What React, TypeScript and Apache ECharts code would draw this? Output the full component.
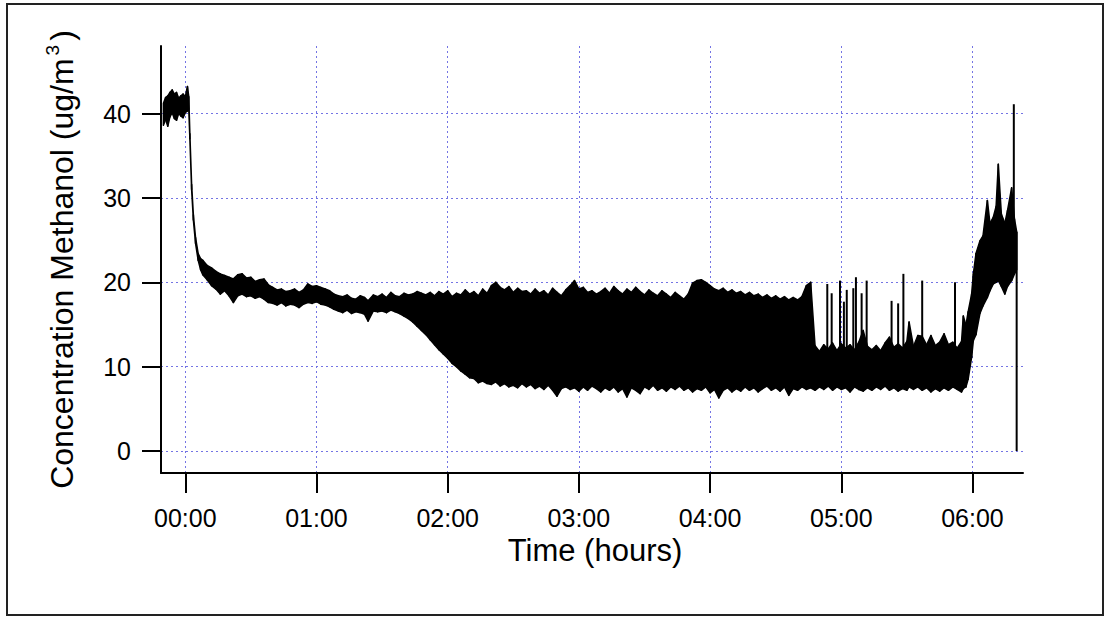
import React, { useEffect, useRef } from 'react';
import * as echarts from 'echarts';

// [minute, low, high] rows
const plateau: number[][] = [
  [-10, 38.6, 41.2], [-9, 39.3, 41.9], [-8, 38.5, 42.1], [-7, 39.6, 42.5], [-6, 40.1, 42.8],
  [-5, 39.4, 42.3], [-4, 39.2, 42.5], [-3, 40.0, 41.8], [-2, 39.7, 42.1], [-1, 39.5, 42.3],
  [0, 40.1, 42.0], [1, 40.3, 43.2],
];
const drop: number[][] = [
  [1.6, 40.5, 42.0], [2.1, 37.0, 37.6], [2.9, 31.0, 31.6], [3.7, 27.4, 28.0], [4.7, 24.6, 25.3],
  [5.9, 22.6, 23.4], [7.0, 21.5, 22.8],
];
const slowDecline: number[][] = [
  [8, 20.9, 22.6], [10, 20.3, 22.0], [12, 19.6, 21.7], [14, 19.2, 21.3], [16, 18.6, 21.0],
  [18, 19.0, 20.8], [20, 18.4, 20.6], [22, 17.6, 20.4], [24, 18.4, 20.9], [26, 18.6, 21.0],
  [28, 18.3, 20.5], [30, 18.4, 20.6], [32, 18.1, 20.1], [34, 18.3, 20.3], [36, 18.0, 20.4],
  [38, 17.6, 19.7], [40, 17.5, 19.4], [42, 17.3, 19.1], [44, 17.6, 19.2], [46, 17.2, 18.9],
  [48, 17.4, 19.0], [50, 17.3, 19.2], [52, 17.0, 18.8], [54, 17.4, 19.1], [56, 17.6, 19.8],
  [58, 17.5, 19.5], [60, 17.7, 19.6], [62, 17.4, 19.4], [64, 17.3, 19.2], [66, 17.1, 19.0],
  [68, 16.8, 18.6], [70, 16.6, 18.4], [72, 16.4, 18.3], [74, 16.7, 18.5], [76, 16.3, 18.1],
  [78, 16.5, 18.0], [80, 16.4, 18.4], [82, 16.2, 18.2], [83.6, 15.4, 17.8], [86, 16.6, 18.5],
  [88, 16.5, 18.3], [90, 16.6, 18.6], [92, 16.4, 18.2], [94, 16.7, 18.8], [96, 16.5, 18.4],
  [98, 16.3, 18.3], [100, 16.0, 18.7], [102, 15.7, 18.5], [104, 15.3, 18.6], [106, 14.8, 18.9],
];
const noisyBand: number[][] = [
  [108, 14.3, 18.7], [110, 13.8, 18.5], [112, 13.2, 18.8], [114, 12.6, 18.4], [116, 12.0, 18.9],
  [118, 11.5, 18.6], [120, 11.0, 19.0], [122, 10.4, 18.3], [124, 10.0, 18.7], [126, 9.5, 18.5],
  [128, 9.1, 19.1], [130, 8.7, 18.6], [132, 8.6, 18.9], [134, 8.1, 18.4], [136, 8.3, 19.2],
  [138, 8.0, 18.7], [140, 7.9, 19.6], [142, 8.2, 20.0], [144, 7.7, 19.4], [146, 8.0, 19.1],
  [148, 7.6, 19.5], [150, 7.8, 18.8], [152, 7.5, 19.3], [154, 8.0, 18.9], [156, 7.6, 19.0],
  [158, 7.9, 18.6], [160, 7.4, 19.2], [162, 7.7, 18.7], [164, 7.3, 19.0], [166, 7.8, 18.5],
  [168, 7.2, 19.3], [170, 6.5, 18.8], [172, 7.4, 18.4], [174, 7.6, 19.1], [176, 7.3, 19.6],
  [178, 7.5, 20.2], [180, 7.1, 19.2], [182, 7.6, 19.4], [184, 7.2, 18.8], [186, 7.7, 19.0],
  [188, 7.4, 18.6], [190, 7.0, 18.9], [192, 7.5, 19.3], [194, 7.2, 18.7], [196, 7.6, 19.5],
  [198, 7.0, 19.0], [200, 7.4, 18.6], [202, 6.4, 19.2], [204, 7.5, 18.8], [206, 7.2, 19.4],
  [208, 6.8, 18.9], [210, 7.6, 18.5], [212, 7.3, 19.1], [214, 7.8, 18.7], [216, 7.2, 18.4],
  [218, 7.5, 19.0], [220, 7.1, 18.6], [222, 7.6, 18.2], [224, 7.3, 18.8], [226, 7.7, 18.4],
  [228, 7.2, 18.0], [230, 7.5, 18.6], [232, 7.0, 19.9], [234, 7.4, 20.2], [236, 7.2, 20.3],
  [238, 7.6, 20.0], [240, 6.9, 19.6], [242, 7.3, 19.2], [244, 6.3, 19.0], [246, 7.2, 19.3],
  [248, 7.5, 18.8], [250, 7.0, 19.1], [252, 7.4, 18.7], [254, 7.1, 18.9], [256, 7.6, 18.5],
  [258, 7.2, 18.8], [260, 7.5, 18.4], [262, 7.0, 18.6], [264, 7.4, 18.2], [266, 7.7, 18.5],
  [268, 7.2, 18.1], [270, 7.5, 18.4], [272, 7.1, 18.0], [274, 7.6, 18.3], [276, 6.6, 17.9],
  [278, 7.4, 18.2], [280, 7.2, 17.9], [282, 7.6, 18.3], [284, 7.3, 19.6], [286, 7.5, 20.0],
];
const spikyTail: number[][] = [
  [288, 7.2, 12.5], [290, 7.6, 11.8], [292, 7.3, 12.6], [294, 7.7, 12.1], [296, 7.2, 12.8],
  [298, 7.6, 11.9], [300, 7.3, 12.7], [302, 7.5, 12.2], [304, 7.0, 12.6], [306, 7.6, 12.0],
  [308, 7.3, 12.9], [310, 7.1, 14.3], [312, 7.5, 12.4], [314, 7.2, 12.0], [316, 7.6, 12.5],
  [318, 7.3, 11.9], [320, 7.7, 12.8], [322, 7.2, 13.5], [324, 7.5, 12.3], [326, 7.1, 12.7],
  [328, 7.4, 12.2], [330, 7.2, 13.0], [331, 7.6, 15.3], [333, 7.3, 12.4], [335, 7.6, 13.7],
  [337, 7.2, 13.6], [339, 7.5, 12.6], [341, 7.0, 13.7], [343, 7.4, 12.5], [345, 7.1, 12.9],
  [347, 7.5, 13.9], [349, 7.2, 12.6], [351, 7.6, 12.9], [353, 7.3, 12.2], [355, 7.0, 13.0],
  [355.8, 7.4, 16.0],
];
const rise: number[][] = [
  [357, 7.6, 14.9], [358, 8.5, 16.5], [359.6, 11.1, 18.6], [360.4, 13.1, 21.0], [361.6, 13.8, 23.4],
  [363.4, 16.3, 24.9], [364.8, 17.2, 25.5], [366.8, 18.2, 29.7], [368, 19.0, 27.0], [369.5, 19.8, 27.7],
  [370.8, 20.0, 29.0], [371.8, 20.2, 34.0], [373.2, 19.5, 28.1], [374.8, 18.6, 27.0], [376, 19.5, 28.5],
  [377.9, 20.2, 31.2], [379.2, 21.0, 27.5], [380.2, 21.5, 26.0],
];

// isolated spikes: minute, base, peak
const spikeMinutes = [293.6, 295.6, 299.4, 301.2, 302.5, 305.5, 306.7, 309.3, 311.6, 323.0, 326.0, 328.4, 337.0, 352.0, 378.9, 380.2];
const spikeBases = [11, 11, 11, 11, 11, 11, 11, 11, 11, 11, 11, 11, 11, 11, 25, 0];
const spikePeaks = [19.8, 18.7, 20.2, 17.7, 19.1, 19.3, 20.6, 18.7, 20.2, 17.8, 17.5, 21.0, 20.2, 20.0, 41.1, 26.0];

const xTickMinutes = [0, 60, 120, 180, 240, 300, 360];
const yTickValues = [0, 10, 20, 30, 40];

const FONT = "'Liberation Sans', Arial, Helvetica, sans-serif";

export default function App() {
  const ref = useRef<HTMLDivElement>(null);
  useEffect(() => {
    if (!ref.current) return;
    const chart = echarts.init(ref.current, null, { renderer: 'svg' });
    const band = [...plateau, ...drop, ...slowDecline, ...noisyBand, ...spikyTail, ...rise];
    // each segment: t0, low0, high0, t1, low1, high1
    const segments: number[][] = [];
    for (let i = 0; i < band.length - 1; i++) {
      const a = band[i];
      const b = band[i + 1];
      segments.push([a[0], a[1], a[2], b[0], b[1], b[2]]);
    }
    const spikes = spikeMinutes.map((m, i) => [m, spikeBases[i], spikePeaks[i]]);
    const gridLine = { show: true, lineStyle: { color: '#7474e4', width: 1, type: [2, 3] as any } };

    chart.setOption({
      animation: false,
      backgroundColor: '#ffffff',
      graphic: [
        {
          type: 'rect',
          shape: { x: 7, y: 4, width: 1096, height: 611 },
          style: { fill: 'none', stroke: '#222', lineWidth: 2 },
          silent: true,
        },
      ],
      grid: { left: 161, right: 81, top: 46, bottom: 144, containLabel: false },
      xAxis: {
        type: 'value',
        min: -11.1,
        max: 383.1,
        name: 'Time (hours)',
        nameLocation: 'middle',
        nameGap: 60,
        nameTextStyle: { fontSize: 31, color: '#000', fontFamily: FONT, padding: [0, 0, 0, 6] },
        axisLine: { show: true, onZero: false, lineStyle: { color: '#000', width: 2 } },
        axisTick: {
          show: true, inside: false, length: 20, customValues: xTickMinutes,
          lineStyle: { color: '#000', width: 2 },
        },
        axisLabel: {
          show: true, margin: 32, fontSize: 25, color: '#000', fontFamily: FONT,
          customValues: xTickMinutes,
          formatter: (v: number) => String(Math.round(v / 60)).padStart(2, '0') + ':00',
        },
        splitLine: gridLine,
      },
      yAxis: {
        type: 'value',
        min: -2.6,
        max: 48.0,
        name: 'Concentration Methanol (ug/m{sup|3})',
        nameLocation: 'middle',
        nameGap: 80,
        nameRotate: 90,
        nameTextStyle: {
          fontSize: 32, color: '#000', fontFamily: FONT, lineHeight: 38,
          rich: {
            sup: { fontSize: 19, lineHeight: 12, verticalAlign: 'top', color: '#000', fontFamily: FONT, padding: [0, 4, 0, 3] },
          },
        },
        axisLine: { show: true, onZero: false, lineStyle: { color: '#000', width: 2 } },
        axisTick: {
          show: true, inside: false, length: 19, customValues: yTickValues,
          lineStyle: { color: '#000', width: 2 },
        },
        axisLabel: {
          show: true, margin: 30, fontSize: 25, color: '#000', fontFamily: FONT,
          customValues: yTickValues,
        },
        splitLine: gridLine,
      },
      series: [
        {
          type: 'custom',
          name: 'concentration band',
          data: segments,
          encode: { x: [0, 3], y: [1, 2, 4, 5] },
          z: 3,
          renderItem: (params: any, api: any) => {
            const a0 = api.coord([api.value(0), api.value(1)]);
            const a1 = api.coord([api.value(0), api.value(2)]);
            const b1 = api.coord([api.value(3), api.value(5)]);
            const b0 = api.coord([api.value(3), api.value(4)]);
            return {
              type: 'polygon',
              shape: { points: [a0, a1, b1, b0] },
              style: { fill: '#000', stroke: '#000', lineWidth: 1.5, lineJoin: 'round' },
            };
          },
        },
        {
          type: 'custom',
          name: 'spikes',
          data: spikes,
          encode: { x: 0, y: [1, 2] },
          z: 4,
          renderItem: (params: any, api: any) => {
            const p0 = api.coord([api.value(0), api.value(1)]);
            const p1 = api.coord([api.value(0), api.value(2)]);
            return {
              type: 'line',
              shape: { x1: p0[0], y1: p0[1], x2: p1[0], y2: p1[1] },
              style: { stroke: '#000', lineWidth: 2 },
            };
          },
        },
      ],
    });
    return () => chart.dispose();
  }, []);
  return (
    <div
      ref={ref}
      style={{ position: 'absolute', left: 0, top: 0, width: 1104, height: 617, background: '#fff' }}
    />
  );
}
